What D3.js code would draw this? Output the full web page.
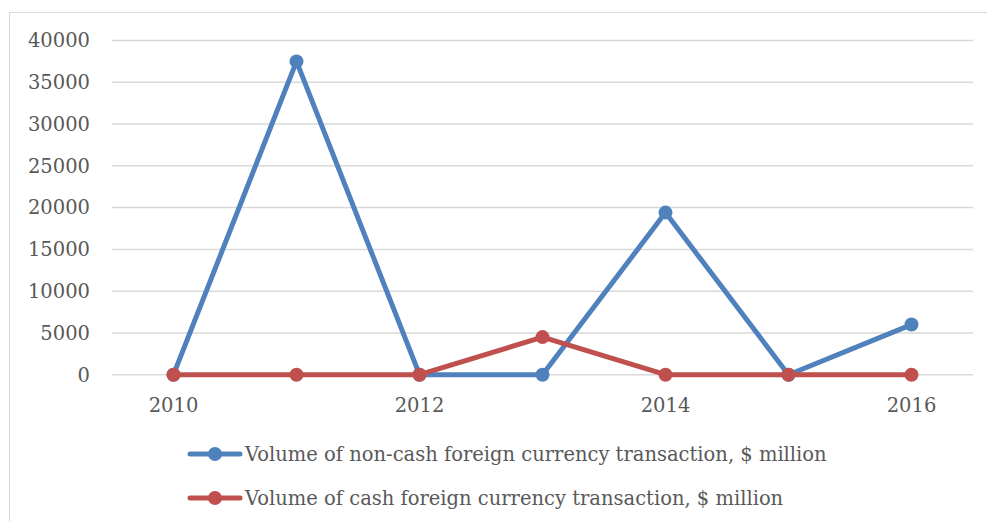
<!DOCTYPE html>
<html>
<head>
<meta charset="utf-8">
<script src="https://cdn.jsdelivr.net/npm/d3@7.9.0/dist/d3.min.js"></script>
<style>
  body { margin: 0; background: #fff; }
  svg text { font-family: "DejaVu Serif", "Liberation Serif", serif; fill: #595959; }
</style>
</head>
<body>
<svg id="chart" width="987" height="521"></svg>
<script>
// chart data
const years = [2010, 2011, 2012, 2013, 2014, 2015, 2016];
const nonCash = [0, 37500, 0, 0, 19400, 0, 6000];
const cash = [0, 0, 0, 4500, 0, 0, 0];
const yTicks = [0, 5000, 10000, 15000, 20000, 25000, 30000, 35000, 40000];
const xLabels = [2010, 2012, 2014, 2016];
const seriesNames = [
  'Volume of non-cash foreign currency transaction, $ million',
  'Volume of cash foreign currency transaction, $ million'
];
const colors = ['#4F81BD', '#C0504D'];

const svg = d3.select('#chart');

// outer chart frame
svg.append('rect')
  .attr('x', 9.5).attr('y', 12.5)
  .attr('width', 990).attr('height', 520)
  .attr('fill', 'none')
  .attr('stroke', '#d9d9d9');

const plotLeft = 112, plotRight = 973, plotTop = 40.5, plotBottom = 374.7;

const x = d3.scalePoint().domain(years).range([plotLeft, plotRight]).padding(0.5);
const y = d3.scaleLinear().domain([0, 40000]).range([plotBottom, plotTop]);

// gridlines
svg.append('g')
  .selectAll('line')
  .data(yTicks)
  .join('line')
  .attr('x1', plotLeft).attr('x2', plotRight)
  .attr('y1', d => y(d)).attr('y2', d => y(d))
  .attr('stroke', '#d9d9d9')
  .attr('stroke-width', 1.5);

// y axis labels
svg.append('g')
  .selectAll('text')
  .data(yTicks)
  .join('text')
  .attr('x', 90)
  .attr('y', d => y(d))
  .attr('dy', '0.35em')
  .attr('text-anchor', 'end')
  .style('font-size', '19.5px')
  .text(d => d);

// x axis labels
svg.append('g')
  .selectAll('text')
  .data(xLabels)
  .join('text')
  .attr('x', d => x(d))
  .attr('y', 412)
  .attr('text-anchor', 'middle')
  .style('font-size', '19.5px')
  .text(d => d);

const line = d3.line()
  .x((d, i) => x(years[i]))
  .y(d => y(d));

[nonCash, cash].forEach((vals, k) => {
  const g = svg.append('g');
  g.append('path')
    .datum(vals)
    .attr('d', line)
    .attr('fill', 'none')
    .attr('stroke', colors[k])
    .attr('stroke-width', 5)
    .attr('stroke-linejoin', 'round');
  g.selectAll('circle')
    .data(vals)
    .join('circle')
    .attr('cx', (d, i) => x(years[i]))
    .attr('cy', d => y(d))
    .attr('r', 7)
    .attr('fill', colors[k]);
});

// legend
const legend = svg.append('g');
seriesNames.forEach((name, k) => {
  const ly = 454 + k * 44;
  legend.append('line')
    .attr('x1', 190).attr('x2', 240)
    .attr('y1', ly).attr('y2', ly)
    .attr('stroke', colors[k])
    .attr('stroke-width', 5)
    .attr('stroke-linecap', 'round');
  legend.append('circle')
    .attr('cx', 215).attr('cy', ly).attr('r', 7)
    .attr('fill', colors[k]);
  legend.append('text')
    .attr('x', 245).attr('y', ly)
    .attr('dy', '0.35em')
    .style('font-size', '19.5px')
    .text(name);
});
</script>
</body>
</html>
